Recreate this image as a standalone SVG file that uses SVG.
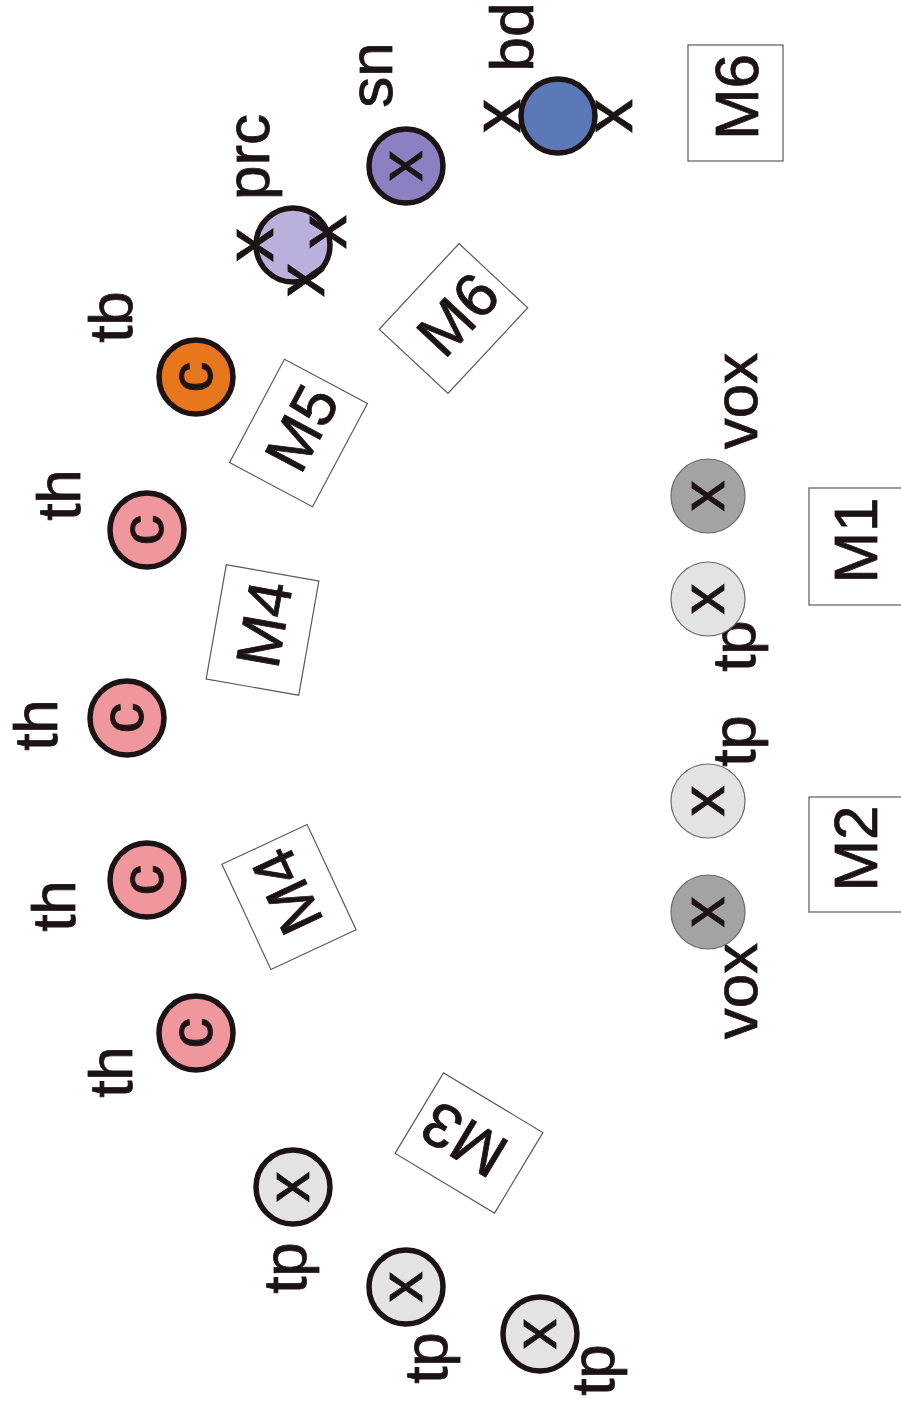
<svg xmlns="http://www.w3.org/2000/svg" width="901" height="1406" viewBox="0 0 901 1406">
  <style>
    .t { font-family: "Liberation Sans", Arial, sans-serif; font-size: 62px; fill: #1c1414; stroke: #1c1414; stroke-width: 0.8px; text-anchor: middle; }
    .xm { font-family: "Liberation Sans", Arial, sans-serif; font-size: 68px; fill: #1c1414; stroke: #1c1414; stroke-width: 0.8px; text-anchor: middle; }
    .ring { stroke: #1c1414; stroke-width: 5.5; }
    .soft { stroke: #6a6a6a; stroke-width: 1.2; }
    .box { fill: #ffffff; stroke: #5a5a5a; stroke-width: 1.2; }
    .bd { fill: #5b79b9; }
    .sn { fill: #8b80c1; }
    .prc { fill: #b9b1dc; }
    .tb { fill: #e8761c; }
    .th { fill: #f0969d; }
    .tp { fill: #e3e3e3; }
    .vox { fill: #a3a3a3; }
  </style>
  <rect width="901" height="1406" fill="#ffffff"/>
  <g id="connectors"/>

  <!-- monitor boxes -->
  <g id="M6-right">
    <rect class="box" x="688" y="45" width="95" height="116"/>
    <text class="t" transform="translate(757.5,97) rotate(-90)">M6</text>
  </g>
  <g id="M1">
    <rect class="box" x="809" y="488" width="100" height="117"/>
    <text class="t" transform="translate(877,540.5) rotate(-90)">M1</text>
  </g>
  <g id="M2">
    <rect class="box" x="809" y="797" width="100" height="115"/>
    <text class="t" transform="translate(877,848.5) rotate(-90)">M2</text>
  </g>
  <g id="M6-tilted" transform="translate(453.5,318.5) rotate(43)">
    <rect class="box" x="-47" y="-58.5" width="94" height="117"/>
    <text class="t" transform="translate(22,-6) rotate(-90)">M6</text>
  </g>
  <g id="M5" transform="translate(298.5,433) rotate(28)">
    <rect class="box" x="-47" y="-58.5" width="94" height="117"/>
    <text class="t" transform="translate(22,-6) rotate(-90)">M5</text>
  </g>
  <g id="M4-upper" transform="translate(262.5,630) rotate(10)">
    <rect class="box" x="-47" y="-58" width="94" height="116"/>
    <text class="t" transform="translate(22,-6) rotate(-90)">M4</text>
  </g>
  <g id="M4-lower" transform="translate(289,897) rotate(-25)">
    <rect class="box" x="-47" y="-58" width="94" height="116"/>
    <text class="t" transform="translate(22,-6) rotate(-90)">M4</text>
  </g>
  <g id="M3" transform="translate(469,1143) rotate(-59)">
    <rect class="box" x="-47" y="-58" width="94" height="116"/>
    <text class="t" transform="translate(22,-6) rotate(-90)">M3</text>
  </g>

  <!-- drums -->
  <g id="bd">
    <text class="t" transform="translate(533,37) rotate(-90)">bd</text>
    <circle class="bd ring" cx="558" cy="116" r="37"/>
    <text class="xm" transform="translate(519.5,116) rotate(-90)">x</text>
    <text class="xm" transform="translate(631.5,116) rotate(-90)">x</text>
  </g>
  <g id="sn">
    <text class="t" transform="translate(392,75) rotate(-90)">sn</text>
    <circle class="sn ring" cx="406" cy="166" r="37"/>
    <text class="t" transform="translate(422,166) rotate(-90)">x</text>
  </g>
  <g id="prc">
    <text class="t" transform="translate(269,157) rotate(-90)">prc</text>
    <circle class="prc ring" cx="293" cy="245" r="37"/>
    <text class="xm" transform="translate(272.5,245) rotate(-90)">x</text>
    <text class="xm" transform="translate(345.5,232) rotate(-90)">x</text>
    <text class="xm" transform="translate(323.5,280) rotate(-90)">x</text>
  </g>
  <g id="tb">
    <text class="t" transform="translate(132,317) rotate(-90)">tb</text>
    <circle class="tb ring" cx="196" cy="377" r="37"/>
    <text class="t" transform="translate(212,377) rotate(-90)">c</text>
  </g>
  <g id="th-1">
    <text class="t" transform="translate(80,495) rotate(-90)">th</text>
    <circle class="th ring" cx="147" cy="530" r="37"/>
    <text class="t" transform="translate(163,530) rotate(-90)">c</text>
  </g>
  <g id="th-2">
    <text class="t" transform="translate(57,725) rotate(-90)">th</text>
    <circle class="th ring" cx="127" cy="718" r="37"/>
    <text class="t" transform="translate(143,718) rotate(-90)">c</text>
  </g>
  <g id="th-3">
    <text class="t" transform="translate(75,906) rotate(-90)">th</text>
    <circle class="th ring" cx="147" cy="880" r="37"/>
    <text class="t" transform="translate(163,880) rotate(-90)">c</text>
  </g>
  <g id="th-4">
    <text class="t" transform="translate(132,1072) rotate(-90)">th</text>
    <circle class="th ring" cx="196" cy="1033" r="37"/>
    <text class="t" transform="translate(212,1033) rotate(-90)">c</text>
  </g>
  <g id="tp-1">
    <text class="t" transform="translate(306,1268) rotate(-90)">tp</text>
    <circle class="tp ring" cx="293" cy="1187" r="37"/>
    <text class="t" transform="translate(309,1187) rotate(-90)">x</text>
  </g>
  <g id="tp-2">
    <text class="t" transform="translate(447,1358) rotate(-90)">tp</text>
    <circle class="tp ring" cx="406" cy="1287" r="37"/>
    <text class="t" transform="translate(422,1287) rotate(-90)">x</text>
  </g>
  <g id="tp-3">
    <text class="t" transform="translate(614,1370) rotate(-90)">tp</text>
    <circle class="tp ring" cx="540" cy="1334" r="37"/>
    <text class="t" transform="translate(556,1334) rotate(-90)">x</text>
  </g>

  <!-- front line -->
  <g id="vox-1">
    <text class="t" transform="translate(757,401) rotate(-90)">vox</text>
    <circle class="vox soft" cx="708" cy="496" r="37"/>
    <text class="t" transform="translate(724,496) rotate(-90)">x</text>
  </g>
  <g id="tp-4">
    <text class="t" transform="translate(755,646) rotate(-90)">tp</text>
    <circle class="tp soft" cx="708" cy="599" r="37"/>
    <text class="t" transform="translate(724,599) rotate(-90)">x</text>
  </g>
  <g id="tp-5">
    <text class="t" transform="translate(755,741) rotate(-90)">tp</text>
    <circle class="tp soft" cx="708" cy="801" r="37"/>
    <text class="t" transform="translate(724,801) rotate(-90)">x</text>
  </g>
  <g id="vox-2">
    <text class="t" transform="translate(757,991) rotate(-90)">vox</text>
    <circle class="vox soft" cx="708" cy="912" r="37"/>
    <text class="t" transform="translate(724,912) rotate(-90)">x</text>
  </g>
</svg>
